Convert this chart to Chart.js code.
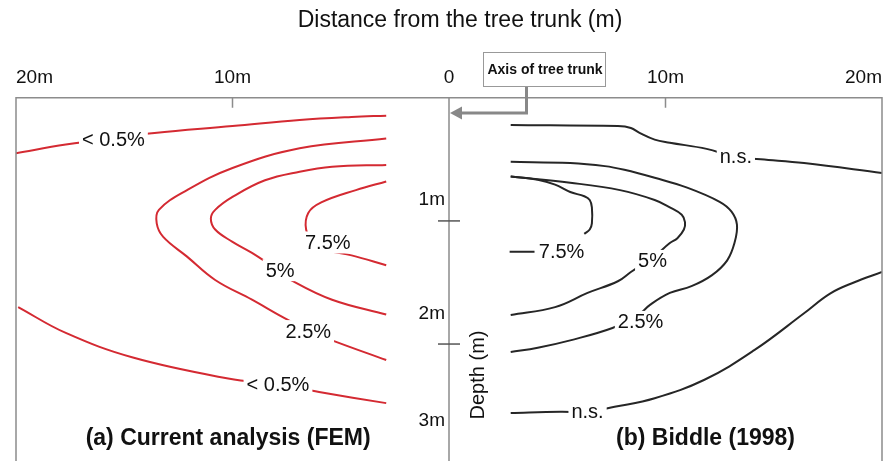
<!DOCTYPE html>
<html lang="en">
<head>
<meta charset="UTF-8">
<title>Distance from the tree trunk</title>
<script src="https://cdn.jsdelivr.net/npm/chart.js"></script>
<style>
  body { margin: 0; background: #fff; }
  #wrap { width: 891px; height: 461px; }
</style>
</head>
<body>
<div id="wrap"><canvas id="chart" width="891" height="461"></canvas></div>
<script>
// distance from trunk in m (left panel negative), depth in m
const xTicks = [-20, -10, 0, 10, 20];
const xTickLabels = ['20m', '10m', '0', '10m', '20m'];
const depthTicks = [1, 2, 3];
const depthTickLabels = ['1m', '2m', '3m'];

// (a) current analysis (FEM) contours
const femTop05 = [[-20,0.45],[-17.7,0.38],[-15.7,0.33],[-13.6,0.285],[-10,0.23],[-6.9,0.18],[-4.5,0.155],[-2.9,0.145]];
const fem25 = [[-2.9,0.33],[-6.9,0.41],[-10,0.57],[-12.1,0.75],[-13.4,0.91],[-13.5,1.02],[-13.2,1.13],[-12.1,1.29],[-10.8,1.48],[-9.1,1.64],[-7.7,1.78],[-6.5,1.89],[-5.4,1.97],[-2.9,2.13]];
const fem5 = [[-2.9,0.545],[-5.4,0.56],[-6.9,0.6],[-8.5,0.67],[-10,0.805],[-10.8,0.91],[-11,0.98],[-10.8,1.07],[-10,1.17],[-9.1,1.26],[-7.9,1.4],[-7.3,1.48],[-5.4,1.64],[-2.9,1.76]];
const fem75 = [[-2.9,0.68],[-4.3,0.75],[-5.9,0.85],[-6.5,0.935],[-6.6,1.07],[-6.25,1.18],[-5.6,1.24],[-4.5,1.28],[-2.9,1.36]];
const femBot05 = [[-19.9,1.7],[-17.7,1.91],[-14.6,2.11],[-10.2,2.28],[-7.9,2.33],[-6,2.39],[-2.9,2.48]];
const femLabels = ['< 0.5%', '7.5%', '5%', '2.5%', '< 0.5%'];
const femLabelX = [-15.5, -5.6, -7.8, -6.5, -7.9];
const femLabelY = [0.335, 1.175, 1.4, 1.895, 2.33];

// (b) Biddle (1998) contours
const bidTopNs = [[2.85,0.22],[7.8,0.23],[8.4,0.245],[8.8,0.285],[9.5,0.34],[10.2,0.365],[11.9,0.415],[13.2,0.48],[14.4,0.5],[16.4,0.53],[20,0.61]];
const bid25 = [[2.85,0.52],[5.6,0.53],[7.2,0.555],[8.1,0.585],[9.5,0.65],[11,0.73],[12.5,0.845],[13.05,0.925],[13.3,1.03],[13.2,1.17],[12.85,1.32],[12.15,1.44],[11.2,1.53],[10.2,1.585],[9.3,1.68],[8.7,1.77],[7.55,1.87],[5.6,1.97],[4.1,2.03],[2.85,2.065]];
const bid5 = [[2.85,0.64],[5.6,0.69],[7.9,0.75],[9.5,0.83],[10.2,0.89],[10.75,0.95],[10.9,1.01],[10.85,1.07],[10.55,1.14],[10.2,1.18],[9.4,1.3],[8.4,1.415],[7.8,1.49],[6.4,1.585],[4.9,1.7],[2.85,1.765]];
const bid75 = [[2.85,0.64],[4.1,0.665],[4.9,0.705],[5.6,0.765],[6.25,0.8],[6.5,0.83],[6.6,0.89],[6.6,1.02],[6.5,1.07],[6.25,1.105],null,[3.95,1.25],[2.8,1.25]];
const bidBotNs = [[2.85,2.56],[5.15,2.55],[6.4,2.55],[7.65,2.51],[9.5,2.44],[11.8,2.29],[14.1,2.05],[16.4,1.75],[17.6,1.59],[18.7,1.5],[20,1.415]];
const bidLabels = ['n.s.', '7.5%', '5%', '2.5%', 'n.s.'];
const bidLabelX = [13.25, 5.2, 9.4, 8.85, 6.4];
const bidLabelY = [0.48, 1.25, 1.325, 1.82, 2.55];

const RED = '#d42a32';
const BLACK = '#262626';
const FONT = '"Liberation Sans", Arial, sans-serif';

function line(pts, color) {
  return {
    data: pts.map(p => p ? { x: p[0], y: p[1] } : { x: null, y: null }),
    showLine: true,
    borderColor: color,
    borderWidth: 2,
    pointRadius: 0,
    tension: 0.4,
    spanGaps: false
  };
}

const overlay = {
  id: 'overlay',
  afterDatasetsDraw(chart) {
    const { ctx, chartArea: a, scales: { x, y } } = chart;
    const x0 = x.getPixelForValue(0);
    ctx.save();

    // title (sits a little right of centre in the original)
    ctx.fillStyle = '#111';
    ctx.font = '23px ' + FONT;
    ctx.textAlign = 'center';
    ctx.textBaseline = 'middle';
    ctx.fillText('Distance from the tree trunk (m)', x0 + 11, 21);

    // frame, centre axis and top ticks
    ctx.strokeStyle = '#8c8c8c';
    ctx.lineWidth = 1.5;
    ctx.beginPath();
    ctx.moveTo(a.left, a.bottom + 2); ctx.lineTo(a.left, a.top);
    ctx.lineTo(a.right, a.top); ctx.lineTo(a.right, a.bottom + 2);
    ctx.moveTo(x0, a.top); ctx.lineTo(x0, a.bottom + 2);
    [-10, 10].forEach(v => {
      const px = x.getPixelForValue(v);
      ctx.moveTo(px, a.top); ctx.lineTo(px, a.top + 10);
    });
    ctx.stroke();

    // contour labels on white
    ctx.font = '20px ' + FONT;
    const drawLabels = (texts, xs, ys) => {
      texts.forEach((t, i) => {
        const cx = x.getPixelForValue(xs[i]);
        const cy = y.getPixelForValue(ys[i]);
        const w = ctx.measureText(t).width;
        ctx.fillStyle = '#fff';
        ctx.fillRect(cx - w / 2 - 3, cy - 11, w + 6, 22);
        ctx.fillStyle = '#111';
        ctx.fillText(t, cx, cy + 1);
      });
    };
    drawLabels(femLabels, femLabelX, femLabelY);
    drawLabels(bidLabels, bidLabelX, bidLabelY);

    // depth ticks on the trunk axis
    ctx.strokeStyle = '#555';
    ctx.lineWidth = 1.5;
    const lift = [21, 30, 46];
    ctx.font = '19px ' + FONT;
    ctx.textAlign = 'right';
    ctx.fillStyle = '#111';
    depthTicks.forEach((v, i) => {
      const py = y.getPixelForValue(v);
      if (py < a.bottom) {
        ctx.beginPath();
        ctx.moveTo(x0 - 11, py); ctx.lineTo(x0 + 11, py);
        ctx.stroke();
      }
      ctx.fillText(depthTickLabels[i], x0 - 4, py - lift[i]);
    });

    // depth axis title
    ctx.save();
    ctx.translate(x0 + 29, 375);
    ctx.rotate(-Math.PI / 2);
    ctx.textAlign = 'center';
    ctx.font = '20px ' + FONT;
    ctx.fillText('Depth (m)', 0, 0);
    ctx.restore();

    // panel captions
    ctx.font = 'bold 23px ' + FONT;
    ctx.textAlign = 'center';
    ctx.fillText('(a) Current analysis (FEM)', x.getPixelForValue(-10.2), 439);
    ctx.fillText('(b) Biddle (1998)', x.getPixelForValue(11.85), 439);

    // trunk axis callout
    ctx.strokeStyle = '#888';
    ctx.fillStyle = '#888';
    ctx.lineWidth = 3;
    ctx.beginPath();
    ctx.moveTo(x0 + 77.5, 86); ctx.lineTo(x0 + 77.5, 113); ctx.lineTo(x0 + 11, 113);
    ctx.stroke();
    ctx.beginPath();
    ctx.moveTo(x0 + 1, 113); ctx.lineTo(x0 + 13, 106.5); ctx.lineTo(x0 + 13, 119.5);
    ctx.closePath();
    ctx.fill();
    ctx.fillStyle = '#fff';
    ctx.fillRect(x0 + 34.5, 52.5, 122, 34);
    ctx.strokeStyle = '#999';
    ctx.lineWidth = 1;
    ctx.strokeRect(x0 + 34.5, 52.5, 122, 34);
    ctx.fillStyle = '#111';
    ctx.font = 'bold 14px ' + FONT;
    ctx.fillText('Axis of tree trunk', x0 + 96, 70);

    ctx.restore();
  }
};

new Chart(document.getElementById('chart'), {
  type: 'scatter',
  data: {
    datasets: [
      line(femTop05, RED), line(fem25, RED), line(fem5, RED), line(fem75, RED), line(femBot05, RED),
      line(bidTopNs, BLACK), line(bid25, BLACK), line(bid5, BLACK), line(bid75, BLACK), line(bidBotNs, BLACK)
    ]
  },
  options: {
    responsive: false,
    animation: false,
    layout: { padding: { top: 57, left: 16, right: 6, bottom: 0 } },
    plugins: {
      legend: { display: false },
      tooltip: { enabled: false }
    },
    scales: {
      x: {
        type: 'linear',
        position: 'top',
        min: -20,
        max: 20,
        grid: { display: false, drawTicks: false },
        border: { display: false },
        ticks: {
          stepSize: 10,
          align: 'inner',
          padding: 9,
          color: '#111',
          font: { family: FONT, size: 19 },
          callback: v => xTickLabels[xTicks.indexOf(v)]
        }
      },
      y: {
        type: 'linear',
        reverse: true,
        min: 0,
        max: 2.95,
        display: false
      }
    }
  },
  plugins: [overlay]
});
</script>
</body>
</html>
